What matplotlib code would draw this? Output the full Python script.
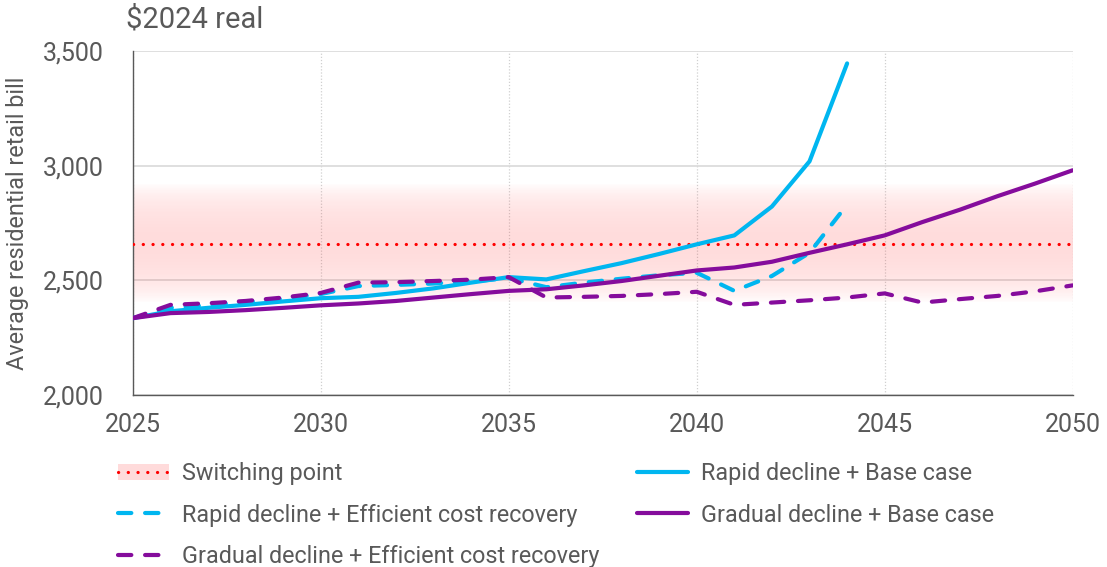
import numpy as np
import matplotlib
matplotlib.use("Agg")
import matplotlib.pyplot as plt
from matplotlib.lines import Line2D
from matplotlib.patches import Patch

plt.rcParams['font.family'] = ['Roboto', 'DejaVu Sans']

# Average residential retail bill, $2024 real
years = list(range(2025, 2051))
years_rapid = list(range(2025, 2045))

rapid_base = [2335, 2365, 2380, 2393, 2408, 2422, 2428, 2445, 2465, 2490,
              2514, 2504, 2540, 2575, 2615, 2657, 2696, 2822, 3019, 3446]
rapid_efficient = [2335, 2380, 2392, 2405, 2420, 2440, 2475, 2480, 2486, 2495,
                   2510, 2470, 2490, 2507, 2522, 2533, 2454, 2519, 2620, 2830]
gradual_base = [2335, 2357, 2362, 2370, 2380, 2391, 2399, 2410, 2425, 2440,
                2454, 2461, 2478, 2497, 2520, 2543, 2556, 2581, 2620, 2657,
                2696, 2754, 2808, 2867, 2922, 2980]
gradual_efficient = [2335, 2393, 2400, 2410, 2425, 2445, 2490, 2492, 2497, 2503,
                     2514, 2425, 2428, 2432, 2440, 2450, 2393, 2403, 2413, 2425,
                     2443, 2403, 2418, 2432, 2452, 2478]

switching_point = 2660
switching_range = 260

x_ticks = [2025, 2030, 2035, 2040, 2045, 2050]
y_ticks = [2000, 2500, 3000, 3500]

CYAN = '#00B6F0'
PURPLE = '#850C9C'
RED = '#FF0000'
TEXT = '#595959'

fig = plt.figure(figsize=(11.07, 5.67), dpi=100)
ax = fig.add_axes([0.120, 0.3034, 0.849, 0.6066])

ax.set_xlim(2025, 2050)
ax.set_ylim(2000, 3500)

# Shaded uncertainty band around the switching point
ys = np.linspace(switching_point - switching_range, switching_point + switching_range, 200)
d = np.abs(ys - switching_point) / switching_range
alpha = 0.16 * np.clip(1.0 - d ** 2.2, 0, 1) ** 0.8
rgba = np.zeros((len(ys), 1, 4))
rgba[..., 0] = 1.0
rgba[..., 1] = 0.15
rgba[..., 2] = 0.15
rgba[:, 0, 3] = alpha
ax.imshow(rgba, extent=[2025, 2050, ys[0], ys[-1]], origin='lower',
          aspect='auto', interpolation='bilinear', zorder=1)

ax.axhline(switching_point, color=RED, lw=2.3, linestyle=(0, (0.05, 3.0)),
           dash_capstyle='round', zorder=3)

lw = 3.0
ax.plot(years_rapid, rapid_base, color=CYAN, lw=lw, zorder=4,
        solid_capstyle='round')
ax.plot(years_rapid, rapid_efficient, color=CYAN, lw=lw, zorder=4,
        linestyle=(0, (3.2, 3.3)), dash_capstyle='round')
ax.plot(years, gradual_base, color=PURPLE, lw=lw, zorder=5,
        solid_capstyle='round')
ax.plot(years, gradual_efficient, color=PURPLE, lw=lw, zorder=5,
        linestyle=(0, (3.2, 3.3)), dash_capstyle='round')

# Grid: solid horizontal, dotted vertical
ax.set_yticks(y_ticks)
ax.set_xticks(x_ticks)
ax.yaxis.grid(True, color='#D9D9D9', lw=1.2, zorder=0)
ax.xaxis.grid(True, color='#D0D0D0', lw=0.9, linestyle=(0, (1, 1.5)), zorder=0)
ax.set_axisbelow(True)

ax.set_yticklabels([f'{v:,}' for v in y_ticks])
ax.set_xticklabels([str(v) for v in x_ticks])
ax.tick_params(axis='y', length=0, pad=21, labelsize=18, labelcolor=TEXT)
ax.tick_params(axis='x', length=0, pad=13, labelsize=18, labelcolor=TEXT)

for side in ('top', 'right'):
    ax.spines[side].set_visible(False)
for side in ('left', 'bottom'):
    ax.spines[side].set_color('#595959')
    ax.spines[side].set_linewidth(1.0)

ax.set_ylabel('Average residential retail bill', fontsize=16.8, color=TEXT)
ax.yaxis.set_label_coords(-0.111, 0.5)

fig.text(0.114, 0.965, '$2024 real', fontsize=21, color=TEXT,
         ha='left', va='center')

# Legend
h_switch = (Patch(facecolor=(1, 0.86, 0.86), edgecolor='none'),
            Line2D([], [], color=RED, lw=2.3, linestyle=(0, (0.05, 3.0)),
                   dash_capstyle='round'))
h_rapid_eff = Line2D([], [], color=CYAN, lw=lw, linestyle=(0, (3.2, 3.3)),
                     dash_capstyle='round')
h_grad_eff = Line2D([], [], color=PURPLE, lw=lw, linestyle=(0, (3.2, 3.3)),
                    dash_capstyle='round')
h_rapid_base = Line2D([], [], color=CYAN, lw=lw, solid_capstyle='round')
h_grad_base = Line2D([], [], color=PURPLE, lw=lw, solid_capstyle='round')

handles = [h_switch, h_rapid_eff, h_grad_eff, h_rapid_base, h_grad_base]
labels = ['Switching point',
          'Rapid decline + Efficient cost recovery',
          'Gradual decline + Efficient cost recovery',
          'Rapid decline + Base case',
          'Gradual decline + Base case']
leg = fig.legend(handles, labels, loc='upper left', bbox_to_anchor=(0.098, 0.201),
                 ncol=2, frameon=False, fontsize=16.8, handlelength=2.2,
                 handletextpad=0.55, columnspacing=1.6, labelspacing=0.78,
                 borderaxespad=0)
for t in leg.get_texts():
    t.set_color(TEXT)

fig.savefig('out.png', dpi=100)
